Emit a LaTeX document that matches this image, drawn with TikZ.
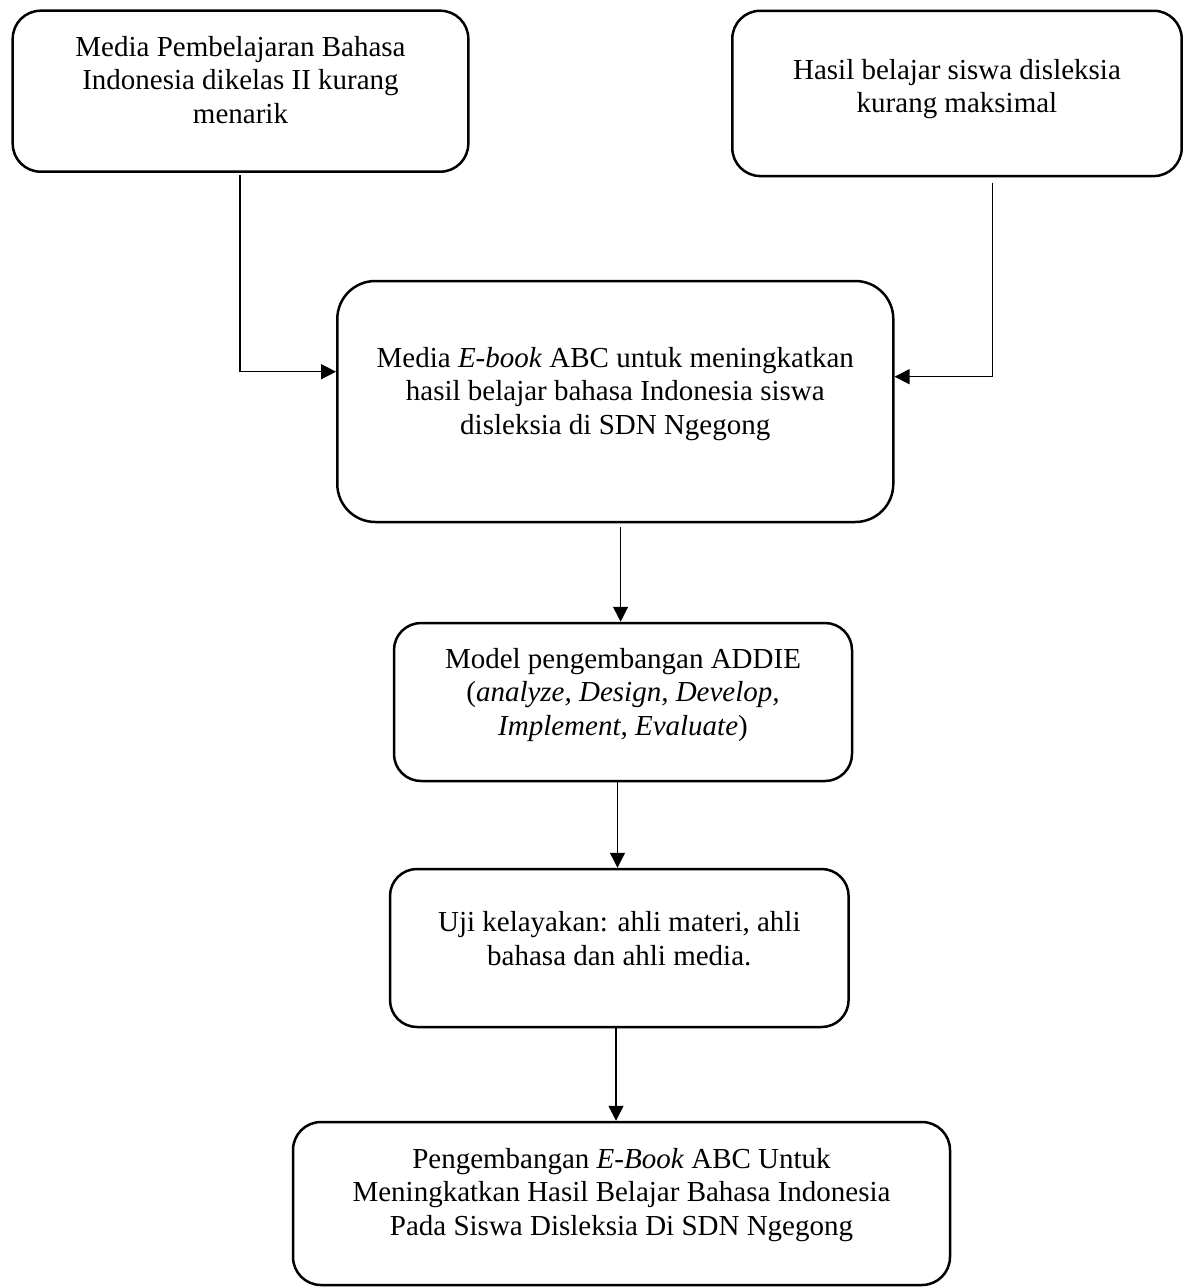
\documentclass[tikz,border=0pt]{standalone}
\usepackage{fontspec}
\setmainfont{Liberation Serif}
\usetikzlibrary{arrows.meta}
\begin{document}
\begin{tikzpicture}[x=1pt,y=-1pt,
  box/.style={draw, line width=2.5pt, inner sep=0pt},
  txt/.style={align=center, inner sep=0pt, font=\fontsize{29}{33.5}\selectfont},
  conn/.style={line width=1.3pt, -{Triangle[length=15pt,width=15pt]}}]
\useasboundingbox (0,0) rectangle (1188,1288);

% boxes
\node[box, rounded corners=28pt, minimum width=455.6pt, minimum height=161pt] (b1) at (240.5,91.2) {};
\node[box, rounded corners=28pt, minimum width=449.4pt, minimum height=165.3pt] (b2) at (957,93.4) {};
\node[box, rounded corners=38pt, minimum width=556pt, minimum height=241pt] (b3) at (615.3,401.5) {};
\node[box, rounded corners=27pt, minimum width=458pt, minimum height=158pt] (b4) at (623,702) {};
\node[box, rounded corners=27pt, minimum width=458.6pt, minimum height=158pt] (b5) at (619.3,948) {};
\node[box, rounded corners=28pt, minimum width=657pt, minimum height=163pt] (b6) at (621.5,1203.5) {};

% texts
\node[txt] (t1) at (240.5,80) {Media Pembelajaran Bahasa\\Indonesia dikelas II kurang\\menarik};
\node[txt] (t2) at (957,89) {Hasil belajar siswa disleksia\\kurang maksimal};
\node[txt] (t3) at (615.3,394) {Media \textit{E-book} ABC untuk meningkatkan\\hasil belajar bahasa Indonesia siswa\\disleksia di SDN Ngegong};
\node[txt] (t4) at (623,694.7) {Model pengembangan ADDIE\\(\textit{analyze, Design, Develop,}\\\textit{Implement, Evaluate})};
\node[txt] (t5) at (619.3,938.8) {Uji kelayakan: ahli materi, ahli\\bahasa dan ahli media.};
\node[txt] (t6) at (621.5,1195) {Pengembangan \textit{E-Book} ABC Untuk\\Meningkatkan Hasil Belajar Bahasa Indonesia\\Pada Siswa Disleksia Di SDN Ngegong};

% connectors
\coordinate (s1) at (240,175);
\coordinate (s2) at (992.5,182.5);
\coordinate (s3) at (620.6,527);
\draw[conn] (s1) |- ([yshift=29.8pt]b3.west);
\draw[conn] (s2) |- ([yshift=24.8pt]b3.east);
\draw[conn] (s3) -- (s3 |- b4.north);
\draw[conn] ([xshift=-5.5pt]b4.south) -- ([xshift=-5.5pt]b4.south |- b5.north);
\draw[conn] ([xshift=-3.3pt]b5.south) -- ([xshift=-3.3pt]b5.south |- b6.north);
\end{tikzpicture}
\end{document}
